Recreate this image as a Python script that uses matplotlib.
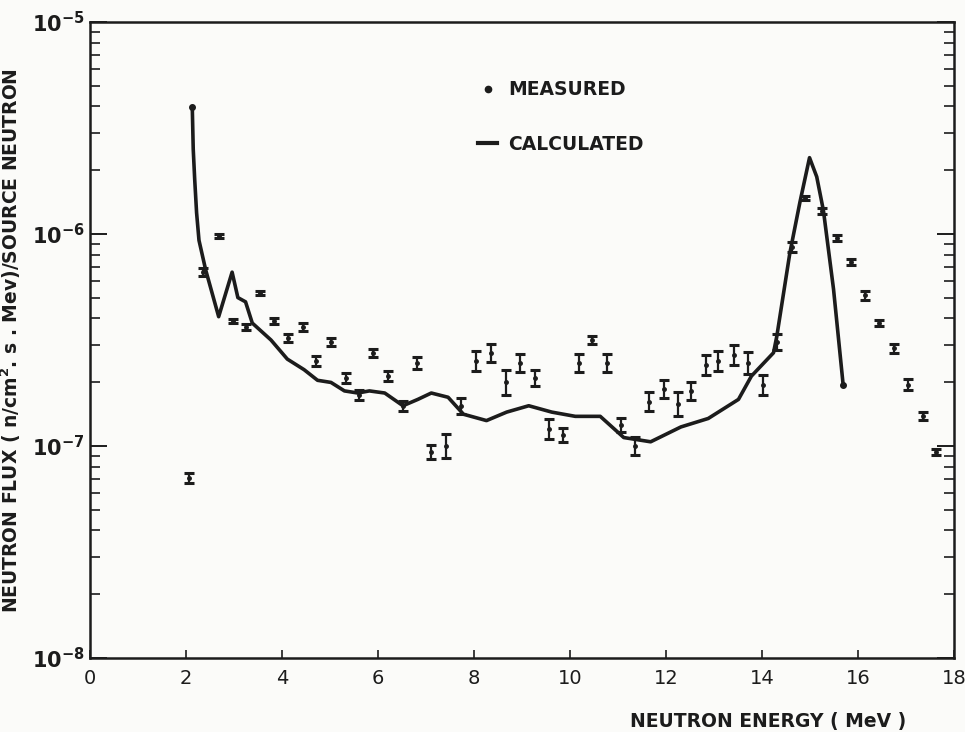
import numpy as np
import matplotlib
matplotlib.use("Agg")
import matplotlib.pyplot as plt
from matplotlib.lines import Line2D
from matplotlib import ticker

plt.rcParams['font.family'] = ['DejaVu Sans']

# measured points: energy (MeV), log10 flux, half error bar (decades)
meas_e = [2.06, 2.36, 2.69, 2.97, 3.24, 3.54, 3.84, 4.13, 4.43, 4.71,
          5.01, 5.33, 5.60, 5.90, 6.20, 6.51, 6.82, 7.10, 7.42, 7.73,
          8.04, 8.35, 8.66, 8.96, 9.28, 9.57, 9.86, 10.19, 10.46, 10.78,
          11.06, 11.35, 11.65, 11.95, 12.24, 12.53, 12.83, 13.09, 13.42, 13.71,
          14.03, 14.31, 14.62, 14.90, 15.26, 15.57, 15.85, 16.15, 16.44, 16.74,
          17.05, 17.35, 17.63]
meas_log = [-7.15, -6.18, -6.01, -6.41, -6.44, -6.28, -6.41, -6.49, -6.44, -6.60,
            -6.51, -6.68, -6.76, -6.56, -6.67, -6.81, -6.61, -7.03, -7.00, -6.81,
            -6.60, -6.56, -6.70, -6.61, -6.68, -6.92, -6.95, -6.61, -6.50, -6.61,
            -6.90, -7.00, -6.79, -6.73, -6.80, -6.74, -6.62, -6.60, -6.57, -6.61,
            -6.71, -6.51, -6.06, -5.83, -5.89, -6.02, -6.13, -6.29, -6.42, -6.54,
            -6.71, -6.86, -7.03]
meas_err = [0.024, 0.019, 0.010, 0.010, 0.014, 0.010, 0.014, 0.019, 0.019, 0.024,
            0.019, 0.024, 0.024, 0.019, 0.024, 0.024, 0.028, 0.033, 0.057, 0.038,
            0.047, 0.042, 0.057, 0.042, 0.038, 0.047, 0.033, 0.042, 0.019, 0.042,
            0.033, 0.042, 0.047, 0.042, 0.057, 0.042, 0.047, 0.047, 0.047, 0.052,
            0.047, 0.038, 0.024, 0.010, 0.014, 0.014, 0.014, 0.019, 0.014, 0.019,
            0.024, 0.019, 0.014]

# calculated spectrum
calc_e = [2.13, 2.15, 2.18, 2.22, 2.27, 2.41, 2.68, 2.96, 3.08, 3.24,
          3.38, 3.77, 4.11, 4.46, 4.74, 5.02, 5.30, 5.58, 5.82, 6.14,
          6.52, 6.83, 7.11, 7.46, 7.78, 8.26, 8.68, 9.14, 9.62, 10.11,
          10.63, 11.12, 11.40, 11.68, 12.31, 12.88, 13.51, 13.78, 14.24, 14.31,
          14.58, 14.79, 14.99, 15.14, 15.28, 15.49, 15.69]
calc_log = [-5.40, -5.60, -5.74, -5.90, -6.03, -6.17, -6.39, -6.18, -6.30, -6.32,
            -6.42, -6.50, -6.59, -6.64, -6.69, -6.70, -6.74, -6.75, -6.74, -6.75,
            -6.81, -6.78, -6.75, -6.77, -6.85, -6.88, -6.84, -6.81, -6.84, -6.86,
            -6.86, -6.96, -6.97, -6.98, -6.91, -6.87, -6.78, -6.67, -6.56, -6.48,
            -6.09, -5.85, -5.64, -5.73, -5.89, -6.26, -6.71]

ink = '#1c1c1c'
bg = '#fbfbf9'

meas_e = np.array(meas_e)
m_log = np.array(meas_log)
m_err = np.array(meas_err)
meas_flux = 10 ** m_log
err_lo = meas_flux - 10 ** (m_log - m_err)
err_hi = 10 ** (m_log + m_err) - meas_flux
calc_flux = 10 ** np.array(calc_log)

fig = plt.figure(figsize=(9.65, 7.32), dpi=100, facecolor=bg)
ax = fig.add_axes([0.0933, 0.101, 0.8953, 0.869], facecolor=bg)

ax.plot(calc_e, calc_flux, color=ink, lw=2.6, solid_joinstyle='round')
ax.plot([calc_e[0], calc_e[-1]], [calc_flux[0], calc_flux[-1]], 'o', color=ink, ms=4)
ax.errorbar(meas_e, meas_flux, yerr=[err_lo, err_hi], fmt='o', ms=2.5,
            color=ink, ecolor=ink, elinewidth=1.6, capsize=3.5, capthick=2.2)

ax.set_yscale('log')
ax.set_xlim(0, 18)
ax.set_ylim(1e-8, 1e-5)
ax.xaxis.set_major_locator(ticker.MultipleLocator(2))
ax.yaxis.set_major_locator(ticker.LogLocator(base=10, numticks=5))
ax.yaxis.set_minor_locator(ticker.LogLocator(base=10, subs=np.arange(2, 10), numticks=10))
ax.yaxis.set_minor_formatter(ticker.NullFormatter())

ax.tick_params(axis='x', which='both', direction='in', length=6, width=1.2,
               top=False, labelsize=14, pad=8, colors=ink)
ax.tick_params(axis='y', which='major', direction='in', length=12, width=1.4,
               right=True, labelsize=15, pad=4, colors=ink)
ax.tick_params(axis='y', which='minor', direction='in', length=7, width=1.2,
               right=True, colors=ink)
for lab in ax.get_yticklabels():
    lab.set_fontweight('bold')
for sp in ax.spines.values():
    sp.set_linewidth(1.8)
    sp.set_color(ink)

ax.set_ylabel(r'NEUTRON FLUX ( n/cm$^\mathbf{2}$. s . Mev)/SOURCE NEUTRON',
              fontsize=13.5, fontweight='bold', color=ink, labelpad=6)
ax.set_xlabel('NEUTRON ENERGY ( MeV )', fontsize=13.5, fontweight='bold',
              color=ink, labelpad=22)
ax.xaxis.set_label_coords(0.785, -0.085)

handles = [Line2D([], [], marker='o', ls='', ms=4.5, color=ink),
           Line2D([], [], color=ink, lw=3)]
leg = ax.legend(handles, ['MEASURED', 'CALCULATED'], loc='upper left',
                bbox_to_anchor=(0.43, 0.935), frameon=False, handlelength=1.0,
                handletextpad=0.6, labelspacing=1.9,
                prop={'size': 13.5, 'weight': 'bold'})
for t in leg.get_texts():
    t.set_color(ink)

fig.savefig('out.png', dpi=100, facecolor=bg)
